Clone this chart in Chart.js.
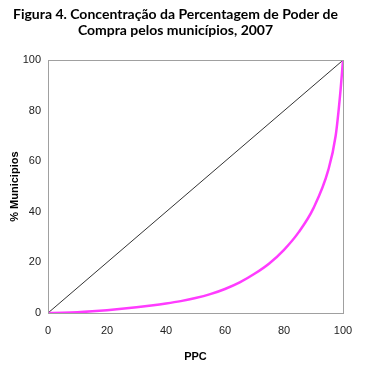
<!DOCTYPE html>
<html>
<head>
<meta charset="utf-8">
<script src="https://cdn.jsdelivr.net/npm/chart.js@4.4.1/dist/chart.umd.min.js"></script>
<style>
  html, body { margin: 0; padding: 0; background: #fff; }
  #wrap { width: 368px; height: 373px; }
</style>
</head>
<body>
<div id="wrap"><canvas id="chart" width="368" height="373"></canvas></div>
<script>
// Curva de concentração (Lorenz)
const ppcValues = [0, 5, 10, 15, 20, 25, 30, 35, 40, 45, 50, 55, 60, 65, 70, 75, 80, 85, 90, 95, 97.5, 99, 100];
const municipiosValues = [0, 0.1, 0.3, 0.65, 1.1, 1.65, 2.25, 2.95, 3.75, 4.7, 5.9, 7.45, 9.5, 12.1, 15.5, 19.6, 25.0, 32.0, 41.5, 56.5, 70, 86, 100];
// Linha de igualdade
const equalityX = [0, 100];
const equalityY = [0, 100];
const tickValues = [0, 20, 40, 60, 80, 100];

const titleLines = ['Figura 4. Concentração da Percentagem de Poder de', 'Compra pelos municípios, 2007'];

const toPoints = (xs, ys) => xs.map((x, i) => ({ x: x, y: ys[i] }));

// Moldura cinza em volta da área do gráfico
const frame = {
    id: 'frame',
    afterDatasetsDraw(chart) {
        const { ctx, chartArea: a } = chart;
        ctx.save();
        ctx.strokeStyle = '#a0a0a0';
        ctx.lineWidth = 1;
        ctx.strokeRect(Math.round(a.left) + 0.5, Math.round(a.top) + 0.5,
            Math.round(a.right - a.left), Math.round(a.bottom - a.top));
        ctx.restore();
    }
};

const tickFont = { family: 'Liberation Sans', size: 11 };
const axisTitleFont = { family: 'Liberation Sans', size: 11, weight: 'bold' };

new Chart(document.getElementById('chart').getContext('2d'), {
    type: 'scatter',
    data: {
        datasets: [{
            label: 'Igualdade',
            data: toPoints(equalityX, equalityY),
            showLine: true,
            borderColor: '#333333',
            borderWidth: 1,
            pointRadius: 0,
            order: 2
        }, {
            label: 'Concentração',
            data: toPoints(ppcValues, municipiosValues),
            showLine: true,
            borderColor: '#ff3cff',
            borderWidth: 2.5,
            pointRadius: 0,
            cubicInterpolationMode: 'monotone',
            order: 1
        }]
    },
    options: {
        responsive: false,
        animation: false,
        layout: {
            padding: { left: 8, right: 25, top: 0, bottom: 0 }
        },
        plugins: {
            legend: { display: false },
            tooltip: { enabled: false },
            title: {
                display: true,
                text: titleLines,
                color: '#000',
                font: { family: 'Lato', size: 14, weight: 'bold', lineHeight: 1.15 },
                padding: { top: 6, bottom: 22 }
            }
        },
        scales: {
            x: {
                type: 'linear',
                min: 0,
                max: 100,
                afterBuildTicks: (scale) => { scale.ticks = tickValues.map(v => ({ value: v })); },
                afterFit: (scale) => { scale.height = 60; },
                grid: { display: false, drawTicks: false },
                border: { display: false },
                ticks: { color: '#222', font: tickFont, padding: 11, maxRotation: 0 },
                title: {
                    display: true,
                    text: 'PPC',
                    color: '#000',
                    font: axisTitleFont,
                    padding: { top: 0, bottom: 9 }
                }
            },
            y: {
                type: 'linear',
                min: 0,
                max: 100,
                afterBuildTicks: (scale) => { scale.ticks = tickValues.map(v => ({ value: v })); },
                afterFit: (scale) => { scale.width = 40; },
                grid: { display: false, drawTicks: false },
                border: { display: false },
                ticks: { color: '#222', font: tickFont, padding: 7 },
                title: {
                    display: true,
                    text: '% Municipios',
                    color: '#000',
                    font: axisTitleFont,
                    padding: { top: 0, bottom: 0 }
                }
            }
        }
    },
    plugins: [frame]
});
</script>
</body>
</html>
